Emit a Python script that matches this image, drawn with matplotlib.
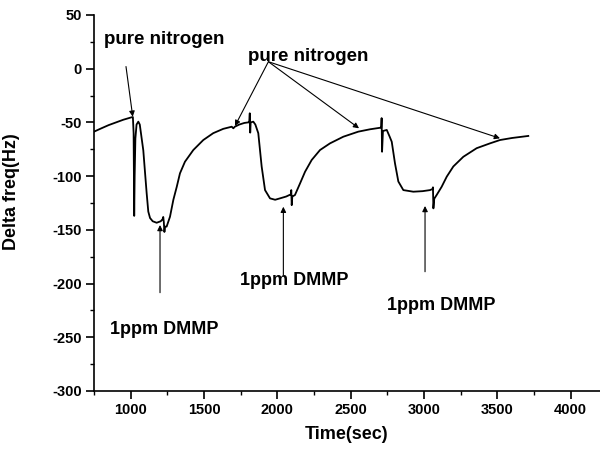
import matplotlib
matplotlib.use('Agg')
import matplotlib.pyplot as plt
from matplotlib.ticker import MultipleLocator

plt.rcParams['font.family'] = ['Liberation Sans', 'DejaVu Sans']
plt.rcParams['font.weight'] = 'bold'
plt.rcParams['axes.unicode_minus'] = False

# sensor response
time_sec = [750, 800, 850, 900, 950, 1007, 1015, 1020, 1024, 1027, 1032, 1040, 1052, 1062,
            1075, 1086, 1098, 1109, 1120, 1132, 1150, 1177, 1205, 1218, 1222, 1226, 1230,
            1234, 1245, 1268, 1291, 1314, 1336, 1370, 1427, 1495, 1563, 1631, 1689, 1700,
            1710, 1740, 1775, 1800, 1808, 1812, 1815, 1818, 1836, 1850, 1870, 1893, 1916, 1950,
            1985, 2018, 2060, 2082, 2092, 2095, 2098, 2102, 2120, 2155, 2189, 2234, 2291,
            2359, 2450, 2552, 2632, 2700, 2708, 2711, 2714, 2720, 2746, 2765, 2780,
            2802, 2825, 2859, 2927, 2990, 3041, 3058, 3061, 3064, 3070, 3086, 3120, 3155,
            3200, 3268, 3359, 3450, 3518, 3600, 3711]
delta_freq = [-58.6, -55.5, -52.5, -50, -47.5, -45.2, -45, -60, -137, -100, -65, -52, -49.3, -52,
              -65, -76, -97, -116, -133, -139, -142, -143.4, -142, -140, -138, -143, -152,
              -147, -147, -137.8, -122, -110, -97.4, -86.6, -75.7, -66.4, -60, -56, -54, -55.5,
              -54, -52, -50.5, -50, -50, -41.5, -59.5, -50, -49.3, -52, -60, -91, -113, -120.7,
              -122, -120.7, -119, -117.6, -117, -113, -127, -119, -117.6, -106.7, -95.9, -85, -75.7,
              -69.5, -63.3, -58.6, -56.4, -55, -55, -46, -77.3, -58, -57, -63, -68,
              -88, -105, -113, -114.5, -114, -113, -112, -110.4, -130, -121, -117.6, -110, -100.5,
              -91, -82, -74, -69.5, -66.4, -64.5, -62.6]

# annotations: (text position) and arrow tips
n2_label = 'pure nitrogen'
n2_first_text = (1227, 27)
n2_first_tail = (968, 2)
n2_first_tip = (1014, -44.7)
n2_group_text = (2209, 11)
n2_group_tail = (1939, 6.5)
n2_group_tips = [(1711, -53.3), (2557, -55.5), (3518, -64.8)]

dmmp_label = '1ppm DMMP'
dmmp_text = [(1227, -243), (2114, -197), (3116, -220)]
dmmp_tails = [(1200, -208.5), (2041, -192), (3007, -189)]
dmmp_tips = [(1200, -145.5), (2041, -128.5), (3007, -127.8)]

fig = plt.figure(figsize=(6.0, 4.54), dpi=100)
ax = fig.add_axes([0.1567, 0.1388, 0.8433, 0.8282])

ax.plot(time_sec, delta_freq, color='black', lw=1.3)

arrow = dict(arrowstyle='-|>', color='black', lw=0.8, mutation_scale=8, shrinkA=0, shrinkB=0)

ax.text(*n2_first_text, n2_label, fontsize=13.5, fontweight='bold', ha='center', va='center')
ax.annotate('', xy=n2_first_tip, xytext=n2_first_tail, arrowprops=arrow)
ax.text(*n2_group_text, n2_label, fontsize=13.5, fontweight='bold', ha='center', va='center')
for tip in n2_group_tips:
    ax.annotate('', xy=tip, xytext=n2_group_tail, arrowprops=arrow)

for pos, tail, tip in zip(dmmp_text, dmmp_tails, dmmp_tips):
    ax.text(*pos, dmmp_label, fontsize=13, fontweight='bold', ha='center', va='center')
    ax.annotate('', xy=tip, xytext=tail, arrowprops=arrow)

ax.set_xlim(750, 4200)
ax.set_ylim(-300, 50)
ax.xaxis.set_major_locator(MultipleLocator(500))
ax.xaxis.set_minor_locator(MultipleLocator(250))
ax.yaxis.set_major_locator(MultipleLocator(50))
ax.yaxis.set_minor_locator(MultipleLocator(25))
ax.set_xticks([1000, 1500, 2000, 2500, 3000, 3500, 4000])
ax.set_yticks(range(-300, 51, 50))

ax.spines['top'].set_visible(False)
ax.spines['right'].set_visible(False)
for s in ('left', 'bottom'):
    ax.spines[s].set_linewidth(1.2)
ax.tick_params(which='major', direction='out', length=6, width=1.2, labelsize=10.5, pad=3)
ax.tick_params(which='minor', direction='out', length=3, width=1.0)
for lab in ax.get_xticklabels() + ax.get_yticklabels():
    lab.set_fontweight('bold')

ax.set_xlabel('Time(sec)', fontsize=13, fontweight='bold', labelpad=6)
ax.set_ylabel('Delta freq(Hz)', fontsize=13, fontweight='bold')
ax.yaxis.set_label_coords(-0.146, 0.53)

fig.savefig('out.png', dpi=100)
